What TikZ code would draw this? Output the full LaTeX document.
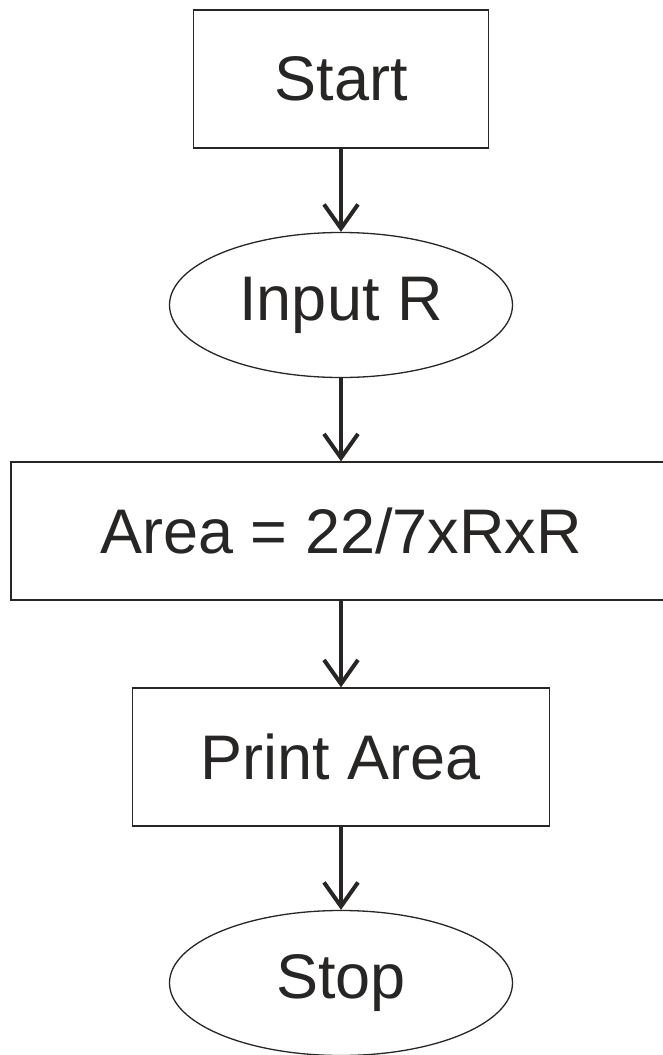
\documentclass[tikz,border=0pt]{standalone}
\usepackage{fontspec}
\setmainfont{Liberation Sans}
\usetikzlibrary{arrows.meta}
\usetikzlibrary{shapes}
\usetikzlibrary{positioning}
\definecolor{ink}{RGB}{40,38,36}

\begin{document}
\begin{tikzpicture}[>={Straight Barb[length=24pt,width=34pt]}, node distance=226pt,
                    every node/.style = {font=\fontsize{63}{70}\selectfont, text=ink},
                    process/.style = {rectangle, draw=ink, line width=1.3pt, minimum height=138pt, inner sep=0pt},
                    terminal/.style = {ellipse, draw=ink, line width=1.3pt, minimum width=343pt, minimum height=145pt, inner sep=0pt},
                    flow/.style = {->, draw=ink, line width=4pt}]
  \useasboundingbox (-341pt,79pt) rectangle (322pt,-976pt);
  \node [process, minimum width=295pt] (start) {Start};
  \node [terminal] (input) [below of=start] {Input R};
  \node [process, minimum width=660pt] (area) [below of=input] {Area = 22/7xRxR};
  \node [process, minimum width=417pt] (print) [below of=area] {Print Area};
  \node [terminal] (stop) [below of=print] {Stop};
  \draw [flow] (start) -- (input);
  \draw [flow] (input) -- (area);
  \draw [flow] (area) -- (print);
  \draw [flow] (print) -- (stop);
\end{tikzpicture}
\end{document}
